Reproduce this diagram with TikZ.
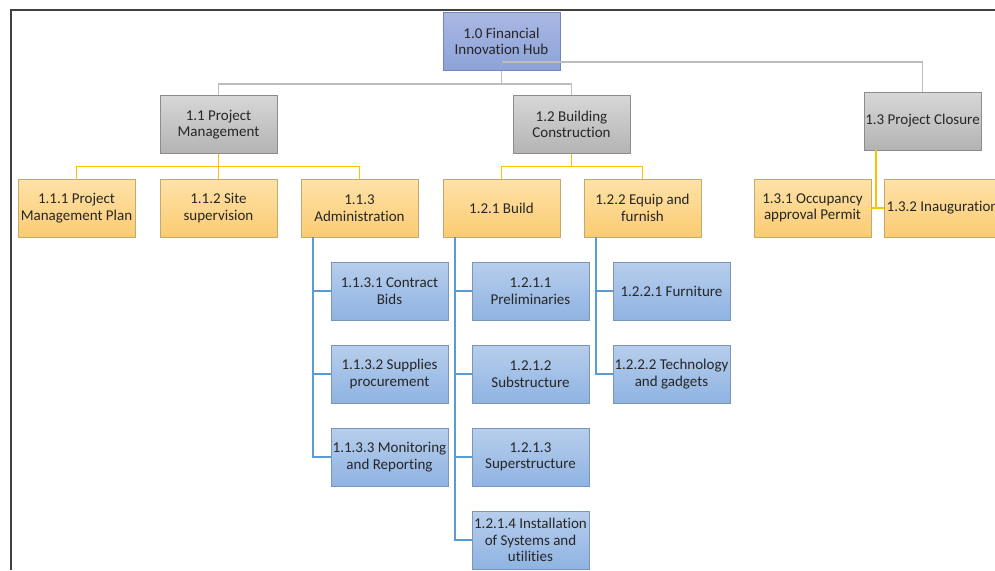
\documentclass[tikz,border=0pt]{standalone}
\usepackage{fontspec}
\setmainfont{Carlito}[Ligatures=NoCommon]
\definecolor{rootTop}{HTML}{AAB8E3}
\definecolor{rootBot}{HTML}{8CA2D9}
\definecolor{rootLine}{HTML}{7385BA}
\definecolor{grayTop}{HTML}{D7D7D7}
\definecolor{grayBot}{HTML}{B3B3B3}
\definecolor{grayLine}{HTML}{8C8C8C}
\definecolor{orTop}{HTML}{FEE2A8}
\definecolor{orBot}{HTML}{FBCB72}
\definecolor{orLine}{HTML}{C4A86E}
\definecolor{blTop}{HTML}{B7CEEC}
\definecolor{blBot}{HTML}{8FB3E2}
\definecolor{blLine}{HTML}{7A94BA}
\definecolor{linkGray}{HTML}{BDBDBD}
\definecolor{linkGold}{HTML}{FFC000}
\definecolor{linkBlue}{HTML}{5B9BD5}
\definecolor{txt}{HTML}{262626}
\begin{document}
\begin{tikzpicture}[x=1pt,y=-1pt,
  font=\fontsize{15}{16.5}\selectfont,
  box/.style={draw, line width=0.9pt, minimum width=117pt, minimum height=58pt,
    inner sep=1pt, align=center, text=txt},
  rootbox/.style={box, draw=rootLine, top color=rootTop, bottom color=rootBot},
  graybox/.style={box, draw=grayLine, top color=grayTop, bottom color=grayBot},
  orangebox/.style={box, draw=orLine, top color=orTop, bottom color=orBot},
  bluebox/.style={box, draw=blLine, top color=blTop, bottom color=blBot},
  glink/.style={draw=linkGray, line width=1.3pt},
  olink/.style={draw=linkGold, line width=1.4pt},
  blink/.style={draw=linkBlue, line width=1.2pt}
]
\useasboundingbox (0,0) rectangle (995,570);
\clip (0,0) rectangle (995,570);

% outer frame
\draw[line width=1.3pt, black!75] (11,570) -- (11,10) -- (996,10);

% root and first level
\node[rootbox] (root) at (501.5,41.5) {1.0 Financial\\Innovation Hub};
\node[graybox] (pm) at (218.5,124.5) {1.1 Project\\Management};
\node[graybox] (bc) at (571.5,124.5) {1.2 Building\\Construction};
\node[graybox] (pc) at (922.5,121) {1.3 Project Closure};

% second level
\node[orangebox] (pmp) at (76.5,208) {1.1.1 Project\\Management Plan};
\node[orangebox] (ss)  at (218.5,208) {1.1.2 Site\\supervision};
\node[orangebox] (adm) at (359.5,208) {1.1.3\\Administration};
\node[orangebox] (bld) at (501.5,208) {1.2.1 Build};
\node[orangebox] (eqf) at (642.5,208) {1.2.2 Equip and\\furnish};
\node[orangebox] (oap) at (812.5,208) {1.3.1 Occupancy\\approval Permit};
\node[orangebox] (ina) at (942.5,208) {1.3.2 Inauguration};

% third level
\node[bluebox] (cb)  at (389.5,291) {1.1.3.1 Contract\\Bids};
\node[bluebox] (sp)  at (389.5,374) {1.1.3.2 Supplies\\procurement};
\node[bluebox] (mr)  at (389.5,457) {1.1.3.3 Monitoring\\and Reporting};
\node[bluebox] (pre) at (530.5,291) {1.2.1.1\\Preliminaries};
\node[bluebox] (sub) at (530.5,374) {1.2.1.2\\Substructure};
\node[bluebox] (sup) at (530.5,457) {1.2.1.3\\Superstructure};
\node[bluebox] (ins) at (530.5,540) {1.2.1.4 Installation\\of Systems and\\utilities};
\node[bluebox] (fur) at (671.5,291) {1.2.2.1 Furniture};
\node[bluebox] (tec) at (671.5,374) {1.2.2.2 Technology\\and gadgets};

% root connectors
\draw[glink] (root.south) -- ++(0,13) coordinate (rj) -| (pm.north);
\draw[glink] (rj) -| (bc.north);
\draw[glink] ([yshift=9pt]root.south) -| (pc.north);

% 1.1 connectors
\draw[olink] (pm.south) -- ++(0,12.5) coordinate (pj) -| (pmp.north);
\draw[olink] (pj) -- (ss.north);
\draw[olink] (pj) -| (adm.north);

% 1.2 connectors
\draw[olink] (bc.south) -- ++(0,12.5) coordinate (bj) -| (bld.north);
\draw[olink] (bj) -| (eqf.north);

% 1.3 connectors
\coordinate (cx) at (876,208);
\draw[olink] (pc.south -| cx) -- (cx);
\draw[olink] (oap.east) -- (ina.west);

% 1.1.3 connectors
\coordinate (a0) at (313,237);
\draw[blink] (a0) |- (mr.west);
\draw[blink] (a0 |- cb.west) -- (cb.west);
\draw[blink] (a0 |- sp.west) -- (sp.west);

% 1.2.1 connectors
\coordinate (b0) at (455,237);
\draw[blink] (b0) |- (ins.west);
\draw[blink] (b0 |- pre.west) -- (pre.west);
\draw[blink] (b0 |- sub.west) -- (sub.west);
\draw[blink] (b0 |- sup.west) -- (sup.west);

% 1.2.2 connectors
\coordinate (c0) at (596,237);
\draw[blink] (c0) |- (tec.west);
\draw[blink] (c0 |- fur.west) -- (fur.west);
\end{tikzpicture}
\end{document}
